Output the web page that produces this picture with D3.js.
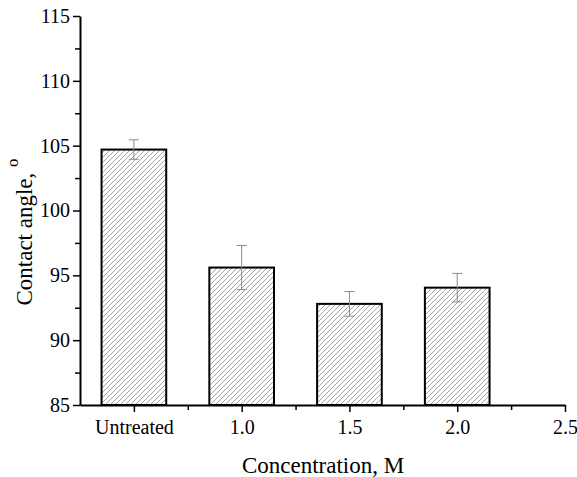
<!DOCTYPE html>
<html><head><meta charset="utf-8">
<script src="https://cdn.jsdelivr.net/npm/d3@7"></script>
<style>body{margin:0;background:#fff}svg{display:block}
svg text{font-family:"Liberation Serif","Times New Roman",Times,serif !important}</style>
</head><body>
<svg id="c" width="577" height="477"></svg>
<script>
const categories = ["Untreated", "1.0", "1.5", "2.0", "2.5"];
const values = [104.7, 95.6, 92.8, 94.05];
const errors = [0.75, 1.7, 0.95, 1.1];
const yTicks = [85, 90, 95, 100, 105, 110, 115];

const svg = d3.select("#c");
const x = d3.scaleLinear().domain([-0.5, 4]).range([80, 565]);
const y = d3.scaleLinear().domain([85, 115]).range([405, 16]);
const barW = x(0.3) - x(-0.3);

const defs = svg.append("defs");
const pat = defs.append("pattern").attr("id", "hatch").attr("patternUnits", "userSpaceOnUse")
  .attr("width", 5).attr("height", 5);
pat.append("path").attr("d", "M-1,1 L1,-1 M0,5 L5,0 M4,6 L6,4")
  .attr("stroke", "#9a9a9a").attr("stroke-width", 0.9);

// bars
values.forEach((v, i) => {
  svg.append("rect").attr("x", x(i) - barW / 2).attr("y", y(v))
    .attr("width", barW).attr("height", y(85) - y(v))
    .attr("fill", "url(#hatch)").attr("stroke", "#000").attr("stroke-width", 2);
});
// error bars
values.forEach((v, i) => {
  const g = svg.append("g").attr("stroke", "#8a8a8a").attr("stroke-width", 1);
  const cx = x(i);
  g.append("line").attr("x1", cx).attr("x2", cx).attr("y1", y(v + errors[i])).attr("y2", y(v - errors[i]));
  g.append("line").attr("x1", cx - 5).attr("x2", cx + 5).attr("y1", y(v + errors[i])).attr("y2", y(v + errors[i]));
  g.append("line").attr("x1", cx - 5).attr("x2", cx + 5).attr("y1", y(v - errors[i])).attr("y2", y(v - errors[i]));
});

// y axis
const yAxis = d3.axisLeft(y).tickValues(yTicks).tickSize(7).tickPadding(3).tickSizeOuter(0);
const gy = svg.append("g").attr("transform", "translate(80,0)").call(yAxis);
const yMinor = d3.axisLeft(y).tickValues(d3.range(87.5, 115, 5)).tickSize(5).tickFormat("").tickSizeOuter(0);
const gym = svg.append("g").attr("transform", "translate(80,0)").call(yMinor);
gym.select(".domain").remove();

// x axis
const xAxis = d3.axisBottom(x).tickValues([0, 1, 2, 3, 4]).tickFormat(i => categories[i])
  .tickSize(7).tickPadding(8).tickSizeOuter(0);
const gx = svg.append("g").attr("transform", "translate(0,405)").call(xAxis);
const xMinor = d3.axisBottom(x).tickValues([0.5, 1.5, 2.5, 3.5]).tickSize(5).tickFormat("").tickSizeOuter(0);
const gxm = svg.append("g").attr("transform", "translate(0,405)").call(xMinor);
gxm.select(".domain").remove();

[gx, gy, gxm, gym].forEach(g => {
  g.attr("font-family", null);
  g.selectAll(".domain").attr("stroke", "#000").attr("stroke-width", 2);
  g.selectAll(".tick line").attr("stroke", "#000").attr("stroke-width", 1.5);
  g.selectAll("text").attr("font-size", 20).attr("fill", "#000");
});

// titles
svg.append("text").attr("x", 323).attr("y", 473).attr("text-anchor", "middle")
  .attr("font-size", 23).text("Concentration, M");
const yt = svg.append("text").attr("transform", "translate(32,232) rotate(-90)")
  .attr("text-anchor", "middle").attr("font-size", 23);
yt.append("tspan").text("Contact angle, ");
yt.append("tspan").attr("dy", -14).attr("font-size", 17).text("o");
</script>
</body></html>
